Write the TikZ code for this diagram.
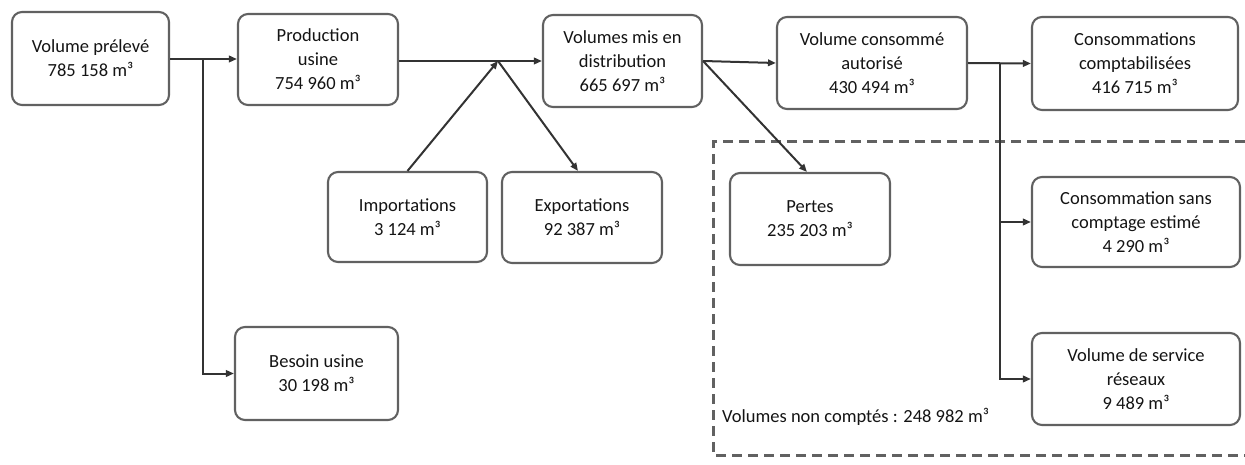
\documentclass[tikz,border=0pt]{standalone}
\usepackage{fontspec}
\setmainfont{Carlito}
\usetikzlibrary{arrows.meta}
\begin{document}
\begin{tikzpicture}[x=1pt,y=-1pt,
  box/.style={draw=black!62, line width=2.1pt, rounded corners=10pt, align=center,
    font=\fontsize{18.5}{24}\selectfont, text=black!92, inner sep=2pt},
  arr/.style={draw=black!80, line width=2pt, -{Triangle[length=8pt,width=6.5pt]}},
  dashbox/.style={draw=black!62, line width=3pt, dash pattern=on 10pt off 6pt},
  lbl/.style={font=\fontsize{18.5}{24}\selectfont, text=black!92, anchor=west, inner sep=0pt}]
\useasboundingbox (0,0) rectangle (1245,465);
% dashed region
\draw[dashbox] (1245,142) -- (713,142) -- (713,455) -- (1245,455);
% boxes
\node[box, minimum width=157pt, minimum height=93pt] (b1) at (90.5,58.5) {Volume prélevé\\785 158 m³};
\node[box, minimum width=160pt, minimum height=91pt] (b2) at (318,59.5) {Production\\usine\\754 960 m³};
\node[box, minimum width=159pt, minimum height=92pt] (b3) at (622.5,61) {Volumes mis en\\distribution\\665 697 m³};
\node[box, minimum width=190pt, minimum height=92pt] (b4) at (872,63) {Volume consommé\\autorisé\\430 494 m³};
\node[box, minimum width=206pt, minimum height=93pt] (b5) at (1135,63.5) {Consommations\\comptabilisées\\416 715 m³};
\node[box, minimum width=159pt, minimum height=90pt] (imp) at (407.5,217) {Importations\\3 124 m³};
\node[box, minimum width=160pt, minimum height=91pt] (exp) at (582,217.5) {Exportations\\92 387 m³};
\node[box, minimum width=160pt, minimum height=92pt] (per) at (810,219) {Pertes\\235 203 m³};
\node[box, minimum width=208pt, minimum height=90pt] (b6) at (1136,222) {Consommation sans\\comptage estimé\\4 290 m³};
\node[box, minimum width=208pt, minimum height=92pt] (b7) at (1136,379) {Volume de service\\réseaux\\9 489 m³};
\node[box, minimum width=163pt, minimum height=93pt] (bes) at (316.5,373.5) {Besoin usine\\30 198 m³};
\node[lbl] (nc) at (722,417) {Volumes non comptés : 248 982 m³};
% junctions
\coordinate (j1) at (203,59);
\coordinate (j2) at (498,61);
\coordinate (j3) at (1000,63);
% connectors
\draw[arr] (b1.east |- j1) -- (b2.west |- j1);
\draw[arr] (j1) |- (bes.west);
\draw[arr] (b2.east |- j2) -- (b3.west |- j2);
\draw[arr] (imp.north) -- (j2);
\draw[arr] (j2) -- ([xshift=-4pt]exp.north);
\draw[arr] (b3.east) -- (b4.west);
\draw[arr] (b3.east) -- ([xshift=-3pt]per.north);
\draw[arr] (b4.east) -- (b5.west);
\draw[arr] (j3) |- (b6.west);
\draw[arr] (j3) |- (b7.west);
\end{tikzpicture}
\end{document}
